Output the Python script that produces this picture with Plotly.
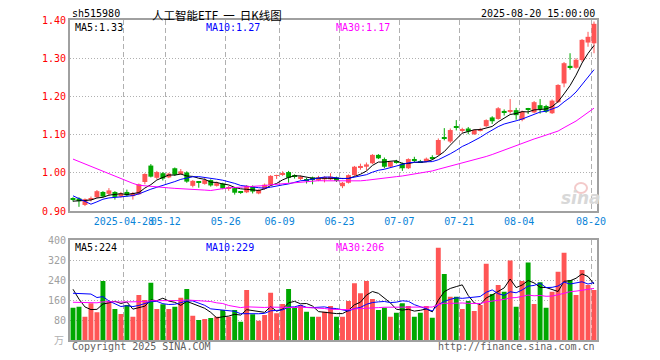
import plotly.graph_objects as go

# ---------------- data ----------------
dates = [
    "2025-04-15", "2025-04-16", "2025-04-17", "2025-04-18", "2025-04-21", "2025-04-22", "2025-04-23", "2025-04-24",
    "2025-04-25", "2025-04-28", "2025-04-29", "2025-04-30", "2025-05-06", "2025-05-07", "2025-05-08", "2025-05-09",
    "2025-05-12", "2025-05-13", "2025-05-14", "2025-05-15", "2025-05-16", "2025-05-19", "2025-05-20", "2025-05-21",
    "2025-05-22", "2025-05-23", "2025-05-26", "2025-05-27", "2025-05-28", "2025-05-29", "2025-05-30", "2025-06-03",
    "2025-06-04", "2025-06-05", "2025-06-06", "2025-06-09", "2025-06-10", "2025-06-11", "2025-06-12", "2025-06-13",
    "2025-06-16", "2025-06-17", "2025-06-18", "2025-06-19", "2025-06-20", "2025-06-23", "2025-06-24", "2025-06-25",
    "2025-06-26", "2025-06-27", "2025-06-30", "2025-07-01", "2025-07-02", "2025-07-03", "2025-07-04", "2025-07-07",
    "2025-07-08", "2025-07-09", "2025-07-10", "2025-07-11", "2025-07-14", "2025-07-15", "2025-07-16", "2025-07-17",
    "2025-07-18", "2025-07-21", "2025-07-22", "2025-07-23", "2025-07-24", "2025-07-25", "2025-07-28", "2025-07-29",
    "2025-07-30", "2025-07-31", "2025-08-01", "2025-08-04", "2025-08-05", "2025-08-06", "2025-08-07", "2025-08-08",
    "2025-08-11", "2025-08-12", "2025-08-13", "2025-08-14", "2025-08-15", "2025-08-18", "2025-08-19", "2025-08-20",
]

open_ = [
    0.932, 0.933, 0.916, 0.929, 0.936, 0.950, 0.945, 0.950, 0.938, 0.950, 0.939, 0.944, 0.976, 1.019, 0.987, 0.999,
    0.988, 1.012, 0.997, 1.001, 0.966, 0.976, 0.971, 0.981, 0.966, 0.972, 0.958, 0.960, 0.950, 0.949, 0.964, 0.946,
    0.958, 0.968, 0.992, 0.996, 1.002, 0.993, 0.984, 0.983, 0.988, 0.980, 0.983, 0.983, 0.988, 0.965, 0.974, 0.994,
    1.015, 1.016, 1.025, 1.047, 1.036, 1.016, 1.030, 1.024, 1.012, 1.036, 1.031, 1.030, 1.040, 1.047, 1.092, 1.082,
    1.122, 1.112, 1.116, 1.101, 1.112, 1.122, 1.145, 1.141, 1.162, 1.161, 1.164, 1.139, 1.168, 1.158, 1.177, 1.175,
    1.156, 1.185, 1.234, 1.280, 1.275, 1.295, 1.341, 1.339,
]
high = [
    0.936, 0.936, 0.933, 0.938, 0.955, 0.952, 0.960, 0.952, 0.950, 0.956, 0.950, 0.972, 0.999, 1.023, 1.005, 1.002,
    1.000, 1.014, 1.010, 1.004, 0.981, 0.978, 0.986, 0.983, 0.977, 0.974, 0.966, 0.963, 0.952, 0.968, 0.967, 0.957,
    0.972, 0.994, 0.995, 1.004, 1.005, 0.996, 0.993, 0.987, 0.990, 0.992, 0.991, 0.999, 0.990, 0.976, 0.996, 1.018,
    1.024, 1.027, 1.049, 1.049, 1.040, 1.031, 1.034, 1.027, 1.038, 1.042, 1.034, 1.040, 1.046, 1.090, 1.117, 1.116,
    1.138, 1.118, 1.120, 1.114, 1.118, 1.140, 1.148, 1.172, 1.166, 1.193, 1.170, 1.163, 1.170, 1.188, 1.193, 1.178,
    1.192, 1.232, 1.290, 1.313, 1.300, 1.350, 1.369, 1.396,
]
low = [
    0.925, 0.911, 0.913, 0.925, 0.934, 0.936, 0.940, 0.930, 0.935, 0.938, 0.930, 0.942, 0.970, 0.988, 0.983, 0.980,
    0.986, 0.992, 0.995, 0.974, 0.962, 0.961, 0.969, 0.964, 0.964, 0.957, 0.953, 0.943, 0.945, 0.947, 0.946, 0.944,
    0.956, 0.966, 0.984, 0.992, 0.974, 0.985, 0.981, 0.972, 0.970, 0.978, 0.975, 0.981, 0.976, 0.960, 0.972, 0.992,
    1.008, 1.006, 1.023, 1.036, 1.012, 1.014, 1.024, 1.005, 1.010, 1.028, 1.026, 1.028, 1.034, 1.045, 1.085, 1.078,
    1.111, 1.105, 1.101, 1.099, 1.108, 1.120, 1.128, 1.139, 1.150, 1.155, 1.139, 1.135, 1.154, 1.156, 1.155, 1.157,
    1.154, 1.183, 1.224, 1.270, 1.272, 1.290, 1.330, 1.313,
]
close = [
    0.929, 0.926, 0.931, 0.933, 0.952, 0.938, 0.954, 0.937, 0.946, 0.941, 0.947, 0.970, 0.997, 0.990, 1.002, 0.985,
    0.998, 0.995, 1.004, 0.977, 0.979, 0.974, 0.981, 0.967, 0.973, 0.959, 0.962, 0.948, 0.949, 0.966, 0.951, 0.955,
    0.969, 0.992, 0.994, 0.998, 0.987, 0.990, 0.990, 0.981, 0.981, 0.988, 0.989, 0.990, 0.979, 0.974, 0.994, 1.016,
    1.018, 1.022, 1.047, 1.038, 1.016, 1.029, 1.028, 1.012, 1.036, 1.032, 1.028, 1.037, 1.038, 1.086, 1.089, 1.112,
    1.118, 1.114, 1.108, 1.112, 1.114, 1.138, 1.135, 1.169, 1.158, 1.163, 1.151, 1.160, 1.165, 1.185, 1.167, 1.160,
    1.189, 1.230, 1.287, 1.276, 1.296, 1.348, 1.356, 1.390,
]
volume = [  # 万手
    129, 133, 93, 147, 111, 236, 156, 124, 104, 140, 93, 180, 160, 229, 124, 143,
    124, 133, 169, 204, 97, 80, 84, 88, 93, 120, 93, 120, 73, 200, 103, 77,
    100, 189, 107, 144, 204, 129, 140, 113, 93, 93, 113, 136, 93, 93, 156, 227,
    187, 236, 164, 120, 129, 93, 109, 147, 136, 93, 109, 136, 89, 369, 264, 173,
    173, 124, 156, 116, 140, 305, 184, 220, 193, 318, 133, 236, 310, 144, 231, 129,
    193, 273, 349, 240, 180, 280, 220, 200,
]

# closes / volumes of the 29 sessions before the window (only feed the moving averages)
prior_close = [
    1.12, 1.14, 1.13, 1.15, 1.13, 1.12, 1.14, 1.13, 1.12, 1.13, 1.12,
    1.05, 1.04, 1.03, 1.04, 1.02, 1.03, 1.02, 1.01, 1.01,
    1.00, 1.01, 1.00, 0.89, 0.87, 0.92, 0.93, 0.925, 0.925,
]
prior_volume = [
    150, 140, 125, 135, 120, 130, 145, 128, 118, 132, 140, 136, 125, 130, 138, 142, 128, 135, 130, 133,
    140, 130, 135, 250, 200, 330, 250, 200, 106,
]

tick_dates = ["2025-04-28", "2025-05-12", "2025-05-26", "2025-06-09", "2025-06-23",
              "2025-07-07", "2025-07-21", "2025-08-04", "2025-08-20"]
tick_labels = ["2025-04-28", "05-12", "05-26", "06-09", "06-23", "07-07", "07-21", "08-04", "08-20"]
price_ticks = [0.90, 1.00, 1.10, 1.20, 1.30, 1.40]
volume_ticks = [80, 160, 240, 320, 400]
ma_periods = [5, 10, 30]
ma_colors = ["#000000", "#0000ff", "#ff00ff"]
price_ma_text = ["MA5:1.33", "MA10:1.27", "MA30:1.17"]
volume_ma_text = ["MA5:224", "MA10:229", "MA30:206"]

# ---------------- helpers ----------------
n = len(close)
idx = list(range(n))
UP, DOWN = "#ff5555", "#00a800"


def moving_average(prior, values, period):
    full = list(prior) + list(values)
    out = []
    for k in range(len(prior), len(full)):
        seg = full[k - period + 1:k + 1]
        out.append(sum(seg) / period)
    return out


is_up = [c >= o for o, c in zip(open_, close)]
colors = [UP if u else DOWN for u in is_up]
body_base = [min(o, c) for o, c in zip(open_, close)]
body_h = [max(abs(c - o), 0.0022) for o, c in zip(open_, close)]

fig = go.Figure()

# wicks
for flag, col in [(True, UP), (False, DOWN)]:
    wx, wy = [], []
    for i in idx:
        if is_up[i] == flag:
            wx += [i, i, None]
            wy += [low[i], high[i], None]
    fig.add_trace(go.Scatter(x=wx, y=wy, mode="lines", line=dict(color=col, width=1),
                             xaxis="x", yaxis="y", hoverinfo="skip", showlegend=False))

# candle bodies
fig.add_trace(go.Bar(x=idx, y=body_h, base=body_base, width=0.82, marker=dict(color=colors, line_width=0),
                     xaxis="x", yaxis="y", showlegend=False))

# price MAs
for p, col in zip(ma_periods, ma_colors):
    fig.add_trace(go.Scatter(x=idx, y=moving_average(prior_close, close, p), mode="lines",
                             line=dict(color=col, width=1), xaxis="x", yaxis="y", showlegend=False))

# volume bars
fig.add_trace(go.Bar(x=idx, y=volume, width=0.82, marker=dict(color=colors, line_width=0),
                     xaxis="x2", yaxis="y2", showlegend=False))
for p, col in zip(ma_periods, ma_colors):
    fig.add_trace(go.Scatter(x=idx, y=moving_average(prior_volume, volume, p), mode="lines",
                             line=dict(color=col, width=1), xaxis="x2", yaxis="y2", showlegend=False))

tickpos = [dates.index(d) - 0.5 for d in tick_dates]
MONO = "DejaVu Sans Mono"
GRID = "#b0b0b0"
BORDER = "#a0a0a0"

common_x = dict(range=[-0.5, n - 0.5], tickvals=tickpos, showgrid=True, gridcolor=GRID, griddash="5px,3px",
                gridwidth=1, zeroline=False, showline=True, mirror=True, linecolor=BORDER, linewidth=2,
                ticks="", fixedrange=True, automargin=False, tickangle=0)
common_y = dict(showgrid=True, gridcolor=GRID, griddash="1px,2px", zeroline=False, showline=True, mirror=True,
                linecolor=BORDER, linewidth=2, ticks="", fixedrange=True, automargin=False, tickangle=0)
# the page has an 8px body margin, so the figure is 652x352 and sits at (8, 8) in the 660x360 window
fig.update_layout(
    width=652, height=352,
    margin=dict(l=62, r=63, t=12, b=20, autoexpand=False),
    paper_bgcolor="white", plot_bgcolor="white",
    barmode="overlay", hovermode=False, showlegend=False,
    font=dict(family=MONO, size=10, color="#000"),
    xaxis=dict(common_x, domain=[0, 1], anchor="y", ticktext=tick_labels, showticklabels=True,
               tickfont=dict(family=MONO, size=10, color="#0a84d8")),
    yaxis=dict(common_y, domain=[0.403, 1], range=[0.90, 1.40], tickvals=price_ticks,
               ticktext=[f"{v:.2f}" for v in price_ticks], tickfont=dict(family=MONO, size=10, color="#ff0000")),
    xaxis2=dict(common_x, domain=[0, 1], anchor="y2", showticklabels=False),
    yaxis2=dict(common_y, domain=[0, 0.3125], range=[0, 400], tickvals=volume_ticks,
                ticktext=[str(v) for v in volume_ticks], tickfont=dict(family=MONO, size=10, color="#a0a0a0")),
)


def px_y(y):  # window pixel row -> paper coordinate
    return (340 - y) / 320.0


def px_x(x):  # window pixel column -> paper coordinate
    return (x - 70) / 527.0


ann = []
ann.append(dict(text="sh515980", x=px_x(70), y=px_y(13.5), xanchor="left", yanchor="middle",
                font=dict(family=MONO, size=10, color="#000")))
ann.append(dict(text="人工智能ETF\u00a0\u00a0一\u00a0\u00a0日K线图", x=px_x(150), y=px_y(14.5), xanchor="left",
                yanchor="middle", font=dict(family="Noto Sans CJK SC", size=11.5, color="#000")))
ann.append(dict(text="2025-08-20 15:00:00", x=1, y=px_y(13.5), xanchor="right", yanchor="middle",
                font=dict(family=MONO, size=10, color="#000")))
for t, col, xp in zip(price_ma_text, ma_colors, [73, 204, 334]):
    ann.append(dict(text=t, x=px_x(xp), y=px_y(27.5), xanchor="left", yanchor="middle",
                    font=dict(family=MONO, size=10, color=col)))
for t, col, xp in zip(volume_ma_text, ma_colors, [73, 204, 334]):
    ann.append(dict(text=t, x=px_x(xp), y=px_y(247), xanchor="left", yanchor="middle",
                    font=dict(family=MONO, size=10, color=col)))
ann.append(dict(text="万", x=px_x(66), y=px_y(339), xanchor="right", yanchor="middle",
                font=dict(family="Noto Sans CJK SC", size=10, color="#b0b0b0")))
ann.append(dict(text="Copyright 2025 SINA.COM", x=px_x(70), y=px_y(346), xanchor="left", yanchor="middle",
                font=dict(family=MONO, size=10, color="#606060")))
ann.append(dict(text="http://finance.sina.com.cn", x=1, y=px_y(346), xanchor="right", yanchor="middle",
                font=dict(family=MONO, size=10, color="#606060")))
ann.append(dict(text="<b><i>sina</i></b>", x=px_x(581), y=px_y(198), xanchor="center", yanchor="middle",
                font=dict(family="DejaVu Sans", size=17, color="#d8d8d8")))
for a in ann:
    a.update(xref="paper", yref="paper", showarrow=False)
fig.update_layout(annotations=ann)

# faint watermark eye above the "sina" word
fig.add_shape(type="circle", xref="paper", yref="paper", x0=px_x(575), x1=px_x(587), y0=px_y(193),
              y1=px_y(183), line=dict(color="#f3caca", width=2), fillcolor="rgba(0,0,0,0)")

fig.write_html("out.html")
